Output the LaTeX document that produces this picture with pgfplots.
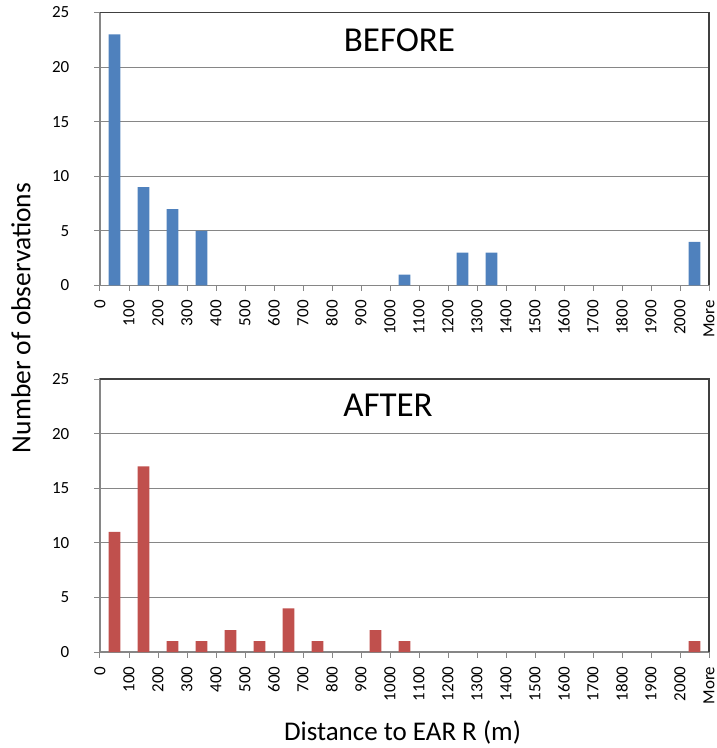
\documentclass[border=0pt]{standalone}
\usepackage{pgfplots}
\pgfplotsset{compat=1.18}
\usepackage{pgfplotstable}
\usepackage{fontspec}
\setmainfont{Carlito}
\definecolor{barblue}{HTML}{4F81BD}
\definecolor{barred}{HTML}{C0504D}
\definecolor{gridgray}{HTML}{868686}
\definecolor{framedark}{HTML}{404040}

\pgfplotstableread{
x y
0.5 23
1.5 9
2.5 7
3.5 5
10.5 1
12.5 3
13.5 3
20.5 4
}\before

\pgfplotstableread{
x y
0.5 11
1.5 17
2.5 1
3.5 1
4.5 2
5.5 1
6.5 4
7.5 1
9.5 2
10.5 1
20.5 1
}\after

\pgfplotsset{
  panel/.style={
    width=609pt, height=273pt, scale only axis,
    xmin=0, xmax=21, ymin=0, ymax=25,
    xtick={0,...,21},
    xticklabels={0,100,200,300,400,500,600,700,800,900,1000,1100,1200,1300,1400,1500,1600,1700,1800,1900,2000,More},
    ytick={0,5,...,25},
    ymajorgrids, grid style={gridgray, line width=1.1pt},
    axis line style={gridgray, line width=1.1pt},
    tick align=outside, major tick length=5.5pt,
    tick style={gridgray, line width=1pt},
    xtick pos=bottom, ytick pos=left,
    x tick label style={yshift=-9pt, rotate=90, anchor=east, inner sep=0pt, font=\fontsize{17}{18}\selectfont},
    y tick label style={anchor=east, inner sep=0pt, xshift=-25pt, font=\fontsize{17}{18}\selectfont},
    /pgf/number format/assume math mode=true,
    ybar, bar width=11.7pt,
    after end axis/.code={
      \draw[framedark, line width=1.2pt] (rel axis cs:0,1) -- (rel axis cs:1,1) -- (rel axis cs:1,0);
    },
  }
}

\begin{document}
\begin{tikzpicture}
\useasboundingbox (0pt,0pt) rectangle (716pt,748pt);
\begin{axis}[panel, at={(100pt,462.5pt)}, anchor=south west]
  \addplot[fill=barblue, draw=none] table[x=x,y=y] {\before};
\end{axis}
\begin{axis}[panel, at={(100pt,96pt)}, anchor=south west]
  \addplot[fill=barred, draw=none] table[x=x,y=y] {\after};
\end{axis}
\node[anchor=base, inner sep=0pt, font=\fontsize{35}{40}\selectfont] at (399.5pt,696pt) {BEFORE};
\node[anchor=base, inner sep=0pt, font=\fontsize{35}{40}\selectfont] at (388pt,331pt) {AFTER};
\node[rotate=90, inner sep=0pt, font=\fontsize{27.5}{30}\selectfont] at (21pt,430pt) {Number of observations};
\node[anchor=base, inner sep=0pt, font=\fontsize{27}{30}\selectfont] at (402.5pt,7pt) {Distance to EAR R (m)};
\end{tikzpicture}
\end{document}
